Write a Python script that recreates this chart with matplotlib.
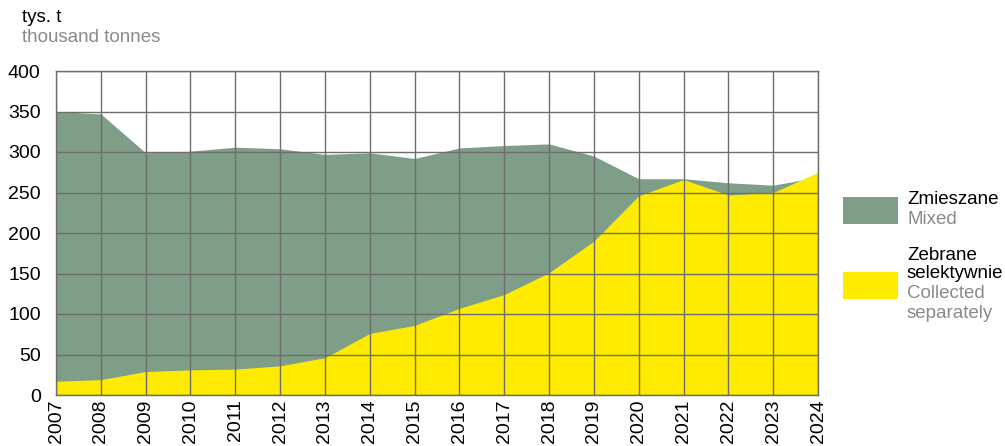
import matplotlib
matplotlib.use("Agg")
import matplotlib.pyplot as plt
from matplotlib.patches import Rectangle

plt.rcParams['font.family'] = ['Liberation Sans', 'DejaVu Sans']

# values in thousand tonnes
years = list(range(2007, 2025))
mixed = [350, 347, 299, 301, 306, 304, 297, 299, 292, 305, 308, 310, 295, 267, 267, 262, 259, 269]
separate = [17, 19, 29, 31, 32, 36, 46, 76, 86, 107, 124, 151, 190, 246, 266, 247, 250, 275]
yticks = [0, 50, 100, 150, 200, 250, 300, 350, 400]

GREEN = '#7f9e87'
YELLOW = '#ffeb00'
GRID = '#6e6e6e'
GREY_TXT = '#8a8a8a'

fig = plt.figure(figsize=(10.05, 4.46), dpi=100)
ax = fig.add_axes([56 / 1005, 51 / 446, 762 / 1005, 324 / 446])

ax.fill_between(years, 0, mixed, color=GREEN, lw=0, zorder=1)
ax.fill_between(years, 0, separate, color=YELLOW, lw=0, zorder=1.1)

ax.set_xlim(years[0], years[-1])
ax.set_ylim(0, 400)
ax.set_xticks(years)
ax.set_xticklabels([str(y) for y in years], rotation=90, fontsize=14)
ax.set_yticks(yticks)
ax.set_yticklabels([str(v) for v in yticks], fontsize=14)
ax.tick_params(axis='x', length=0, pad=3)
ax.tick_params(axis='y', length=0, pad=11)
ax.set_axisbelow(False)
ax.grid(True, color=GRID, lw=1)
for s in ax.spines.values():
    s.set_color(GRID)
    s.set_linewidth(1)

# unit labels
fig.text(22 / 1005, 1 - 17 / 446, 'tys. t', fontsize=13.5, va='center', ha='left')
fig.text(22 / 1005, 1 - 37 / 446, 'thousand tonnes', fontsize=13.5, va='center',
         ha='left', color=GREY_TXT)

# legend drawn by hand
def patch(x0, y0, c):
    fig.patches.append(Rectangle((x0 / 1005, 1 - (y0 + 27) / 446), 55 / 1005, 27 / 446,
                                 transform=fig.transFigure, color=c, lw=0))

patch(843, 197, GREEN)
patch(843, 272, YELLOW)
tx = 907 / 1005
fig.text(tx, 1 - 200 / 446, 'Zmieszane', fontsize=13.5, va='center')
fig.text(tx, 1 - 220 / 446, 'Mixed', fontsize=13.5, va='center', color=GREY_TXT)
fig.text(tx, 1 - 255 / 446, 'Zebrane', fontsize=13.5, va='center')
fig.text(tx, 1 - 274 / 446, 'selektywnie', fontsize=13.5, va='center')
fig.text(tx, 1 - 294 / 446, 'Collected', fontsize=13.5, va='center', color=GREY_TXT)
fig.text(tx, 1 - 314 / 446, 'separately', fontsize=13.5, va='center', color=GREY_TXT)

fig.savefig('out.png', dpi=100)
